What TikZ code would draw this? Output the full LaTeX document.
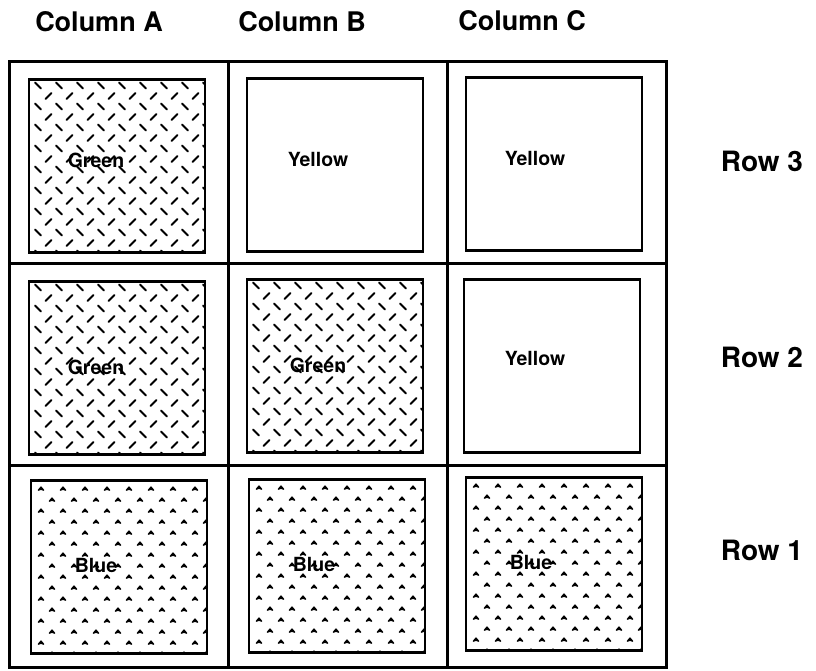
\documentclass[tikz,border=0pt]{standalone}
\usepackage{fontspec}
\setmainfont{TeX Gyre Heros}
\begin{document}
\begin{tikzpicture}[x=1pt,y=-1pt,
  cell/.style={draw,line width=2.6pt,minimum width=219pt,minimum height=202pt,inner sep=0pt,anchor=north west},
  swatch/.style={draw,line width=2.6pt,minimum width=176pt,minimum height=173pt,inner sep=0pt},
  tick/.style={line width=2.1pt,line cap=round},
  greenfill/.style={path picture={
    \coordinate (pnw) at (path picture bounding box.north west);
    \foreach \k in {0,...,8}{\foreach \j in {0,...,8}{
      \draw[tick] ([shift={(9+21*\j,6+21*\k)}]pnw) +(-3,-3) -- +(3,3);
      \draw[tick] ([shift={(19.5+21*\j,16.5+21*\k)}]pnw) +(-3,3) -- +(3,-3);
    }}}},
  bluefill/.style={path picture={
    \coordinate (pnw) at (path picture bounding box.north west);
    \foreach \k in {0,...,8}{\foreach \j in {0,...,8}{
      \filldraw[tick,line width=1.4pt,line join=round] ([shift={(10+22*\j,8+22*\k)}]pnw) +(-2.5,1.6) -- +(0,-1.4) -- +(2.5,1.6) -- +(0,0.6) -- cycle;
      \filldraw[tick,line width=1.4pt,line join=round] ([shift={(21+22*\j,19+22*\k)}]pnw) +(-2.5,1.6) -- +(0,-1.4) -- +(2.5,1.6) -- +(0,0.6) -- cycle;
    }}}},
  head/.style={font=\bfseries\fontsize{27}{30}\selectfont},
  rowhead/.style={font=\bfseries\fontsize{28}{31}\selectfont},
  celltext/.style={font=\bfseries\fontsize{19.5}{22}\selectfont},
]
\useasboundingbox (0,0) rectangle (816,671);

% column and row headings
\node[head] (hA) at (99,22) {Column A};
\node[head] (hB) at (302,22) {Column B};
\node[head] (hC) at (522,21) {Column C};
\node[rowhead] (r3) at (762,161) {Row 3};
\node[rowhead] (r2) at (762,357) {Row 2};
\node[rowhead] (r1) at (762,550) {Row 1};

% outer grid cells
\node[cell] (cA3) at (8,60) {};
\node[cell] (cB3) at (227,60) {};
\node[cell] (cC3) at (446,60) {};
\node[cell] (cA2) at (8,262) {};
\node[cell] (cB2) at (227,262) {};
\node[cell] (cC2) at (446,262) {};
\node[cell] (cA1) at (8,464) {};
\node[cell] (cB1) at (227,464) {};
\node[cell] (cC1) at (446,464) {};

% inner swatches
\node[swatch,greenfill] (sA3) at (117,166) {};
\node[swatch] (sB3) at (335,165) {};
\node[swatch] (sC3) at (554,164) {};
\node[swatch,greenfill] (sA2) at (117,368) {};
\node[swatch,greenfill] (sB2) at (335,366) {};
\node[swatch] (sC2) at (552,366) {};
\node[swatch,bluefill] (sA1) at (119,567) {};
\node[swatch,bluefill] (sB1) at (337,566) {};
\node[swatch,bluefill] (sC1) at (554,564) {};

% swatch names
\node[celltext] (tA3) at ([xshift=-21pt,yshift=6pt]sA3.center) {Green};
\node[celltext] (tB3) at ([xshift=-17pt,yshift=6pt]sB3.center) {Yellow};
\node[celltext] (tC3) at ([xshift=-19pt,yshift=6pt]sC3.center) {Yellow};
\node[celltext] (tA2) at ([xshift=-21pt,yshift=1pt]sA2.center) {Green};
\node[celltext] (tB2) at ([xshift=-17pt,yshift=1pt]sB2.center) {Green};
\node[celltext] (tC2) at ([xshift=-17pt,yshift=8pt]sC2.center) {Yellow};
\node[celltext] (tA1) at ([xshift=-23pt,yshift=2pt]sA1.center) {Blue};
\node[celltext] (tB1) at ([xshift=-23pt,yshift=2pt]sB1.center) {Blue};
\node[celltext] (tC1) at ([xshift=-23pt,yshift=2pt]sC1.center) {Blue};
\end{tikzpicture}
\end{document}
